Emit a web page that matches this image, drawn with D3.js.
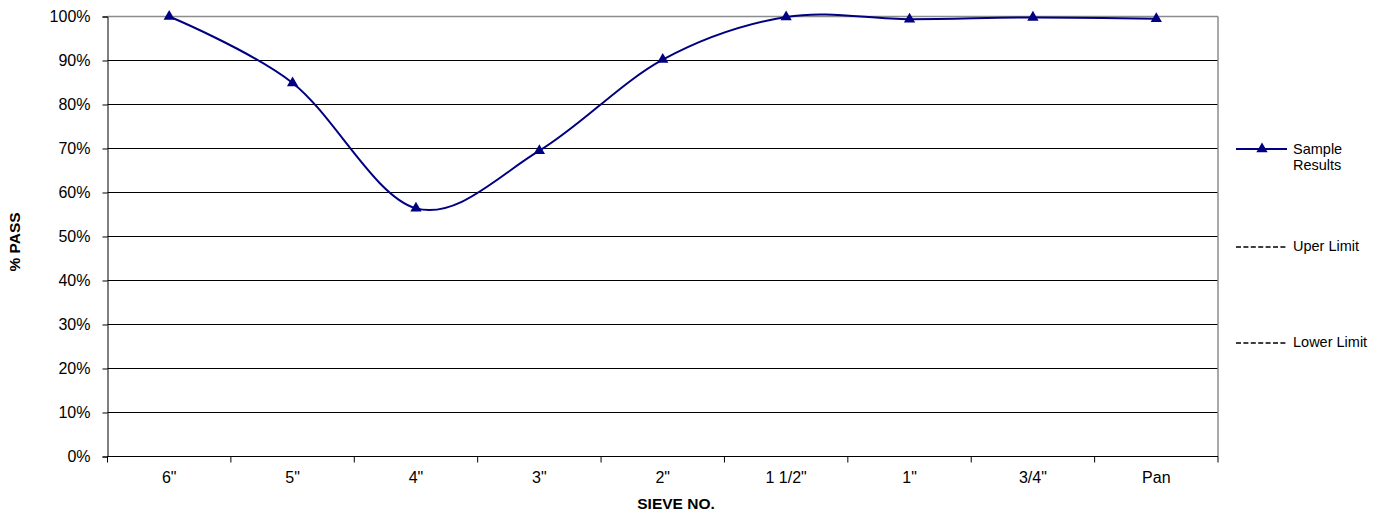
<!DOCTYPE html>
<html>
<head>
<meta charset="utf-8">
<script src="https://cdn.jsdelivr.net/npm/d3@7"></script>
<style>
  html, body { margin: 0; padding: 0; background: #fff; }
  svg { display: block; font-family: "Liberation Sans", Arial, sans-serif; }
</style>
</head>
<body>
<svg id="chart" width="1378" height="517"></svg>
<script>
const categories = ['6"', '5"', '4"', '3"', '2"', '1 1/2"', '1"', '3/4"', 'Pan'];
const sampleResults = [1.00, 0.849, 0.564, 0.695, 0.902, 0.999, 0.994, 0.998, 0.995];
const upperLimit = [];
const lowerLimit = [];
const yTicks = [0, 0.1, 0.2, 0.3, 0.4, 0.5, 0.6, 0.7, 0.8, 0.9, 1.0];
const legendItems = [
  { name: ["Sample", "Results"], type: "sample" },
  { name: ["Uper Limit"], type: "dash" },
  { name: ["Lower Limit"], type: "dash" }
];

(function () {
const svg = d3.select("#chart");
const pLeft = 107.5, pRight = 1218, pTop = 16.5, pBottom = 456.5;

const x = d3.scaleBand().domain(categories).range([pLeft, pRight]).padding(0);
const y = d3.scaleLinear().domain([0, 1]).range([pBottom, pTop]);

// gridlines
svg.append("g").selectAll("line").data(yTicks.filter(d => d > 0 && d < 1)).join("line")
  .attr("x1", pLeft).attr("x2", pRight)
  .attr("y1", d => y(d)).attr("y2", d => y(d))
  .attr("stroke", "#000").attr("stroke-width", 1);

// plot border (top and right gray)
svg.append("line").attr("x1", pLeft).attr("x2", pRight).attr("y1", pTop).attr("y2", pTop)
  .attr("stroke", "#8c8c8c").attr("stroke-width", 1.5);
svg.append("line").attr("x1", pRight).attr("x2", pRight).attr("y1", pTop).attr("y2", pBottom)
  .attr("stroke", "#8c8c8c").attr("stroke-width", 1.5);

// Y axis
const yAxis = d3.axisLeft(y).tickValues(yTicks).tickFormat(d3.format(".0%")).tickSize(5).tickPadding(12);
const gy = svg.append("g").attr("transform", `translate(${pLeft},0)`).call(yAxis);
gy.select(".domain").attr("stroke", "#000");
gy.selectAll(".tick line").attr("stroke", "#000");
gy.selectAll("text").attr("font-size", 16).attr("fill", "#000")
  .attr("font-family", "Liberation Sans, Arial, sans-serif");

// X axis (ticks at band boundaries)
const gx = svg.append("g").attr("transform", `translate(0,${pBottom})`);
gx.append("line").attr("x1", pLeft).attr("x2", pRight).attr("y1", 0).attr("y2", 0).attr("stroke", "#000");
const boundaries = categories.map(c => x(c)).concat([pRight]);
gx.selectAll("line.tk").data(boundaries).join("line").attr("class", "tk")
  .attr("x1", d => d).attr("x2", d => d).attr("y1", 0).attr("y2", 6).attr("stroke", "#000");
gx.selectAll("text").data(categories).join("text")
  .attr("x", d => x(d) + x.bandwidth() / 2).attr("y", 22)
  .attr("text-anchor", "middle").attr("dominant-baseline", "middle")
  .attr("font-size", 16).attr("fill", "#000").text(d => d);

// axis titles
svg.append("text").attr("x", 676).attr("y", 505)
  .attr("text-anchor", "middle").attr("dominant-baseline", "middle")
  .attr("font-size", 15.5).attr("font-weight", "bold").text("SIEVE NO.");
svg.append("text").attr("transform", "translate(16,242) rotate(-90)")
  .attr("text-anchor", "middle").attr("dominant-baseline", "middle")
  .attr("font-size", 15.5).attr("font-weight", "bold").text("% PASS");

// series line
const pts = categories.map((c, i) => ({ c, v: sampleResults[i] }));
const line = d3.line().x(d => x(d.c) + x.bandwidth() / 2).y(d => y(d.v))
  .curve(d3.curveCardinal.tension(0));
svg.append("path").datum(pts).attr("d", line)
  .attr("fill", "none").attr("stroke", "#000080").attr("stroke-width", 2);

const tri = d3.symbol().type(d3.symbolTriangle).size(55);
svg.append("g").selectAll("path").data(pts).join("path")
  .attr("d", tri)
  .attr("transform", d => `translate(${x(d.c) + x.bandwidth() / 2},${y(d.v)})`)
  .attr("fill", "#000080");

// legend
const legY = [149, 247, 343];
const lg = svg.append("g");
legendItems.forEach((item, i) => {
  const yy = legY[i];
  if (item.type === "sample") {
    lg.append("line").attr("x1", 1236).attr("x2", 1287).attr("y1", yy).attr("y2", yy)
      .attr("stroke", "#000080").attr("stroke-width", 2);
    lg.append("path").attr("d", tri).attr("transform", `translate(1262,${yy})`).attr("fill", "#000080");
    lg.append("text").attr("x", 1293).attr("y", yy + 1).attr("dominant-baseline", "middle")
      .attr("font-size", 14.5).text(item.name[0]);
    lg.append("text").attr("x", 1293).attr("y", yy + 17.5).attr("dominant-baseline", "middle")
      .attr("font-size", 14.5).text(item.name[1]);
  } else {
    lg.append("line").attr("x1", 1236).attr("x2", 1287).attr("y1", yy).attr("y2", yy)
      .attr("stroke", "#000").attr("stroke-width", 1.3).attr("stroke-dasharray", "5,2.4");
    lg.append("text").attr("x", 1293).attr("y", yy).attr("dominant-baseline", "middle")
      .attr("font-size", 14.5).text(item.name[0]);
  }
});
})();
</script>
</body>
</html>
